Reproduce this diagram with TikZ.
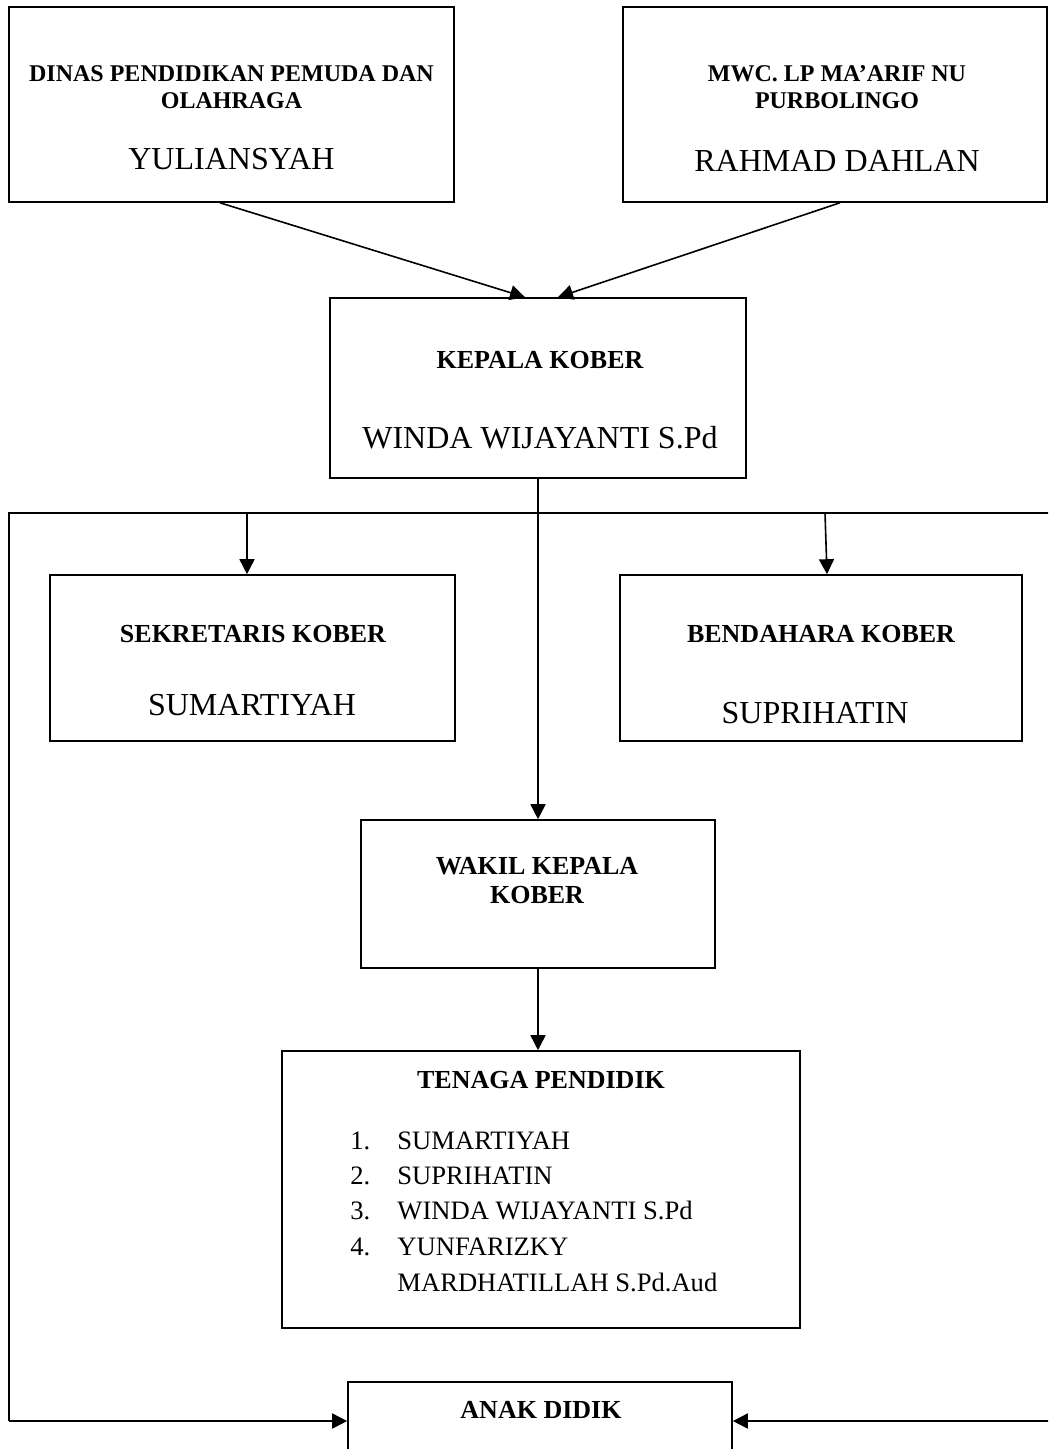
\documentclass[tikz,border=0pt]{standalone}
\usepackage{fontspec}
\setmainfont{Liberation Serif}
\usetikzlibrary{arrows.meta}

\tikzset{
  box/.style={draw, line width=0.8pt, inner sep=0pt},
  arr/.style={-{Triangle[length=7.5pt,width=7.5pt]}, line width=0.8pt},
  ln/.style={line width=0.8pt},
  hd/.style={font=\bfseries\fontsize{12}{14}\selectfont, anchor=base, inner sep=0pt},
  hdb/.style={font=\bfseries\fontsize{13}{15}\selectfont, anchor=base, inner sep=0pt},
  nm/.style={font=\fontsize{16}{19}\selectfont, anchor=base, inner sep=0pt},
  itm/.style={font=\fontsize{13.3}{16}\selectfont, anchor=base west, inner sep=0pt}
}

\begin{document}
\begin{tikzpicture}[x=0.5pt,y=-0.5pt]
            \clip (0,0) rectangle (1048,1449);
            % boxes
            \node[box, minimum width=222.5pt, minimum height=97.5pt] (dinas) at (231.5,104.5) {};
            \node[box, minimum width=212pt, minimum height=97.5pt] (mwc) at (835,104.5) {};
            \node[box, minimum width=208pt, minimum height=90pt] (kepala) at (538,388) {};
            \node[box, minimum width=202.5pt, minimum height=83pt] (sekretaris) at (252.5,658) {};
            \node[box, minimum width=201pt, minimum height=83pt] (bendahara) at (821,658) {};
            \node[box, minimum width=177pt, minimum height=74pt] (wakil) at (538,894) {};
            \node[box, minimum width=259pt, minimum height=138.5pt] (tenaga) at (541,1189.5) {};
            \node[box, minimum width=192pt, minimum height=69pt] (anak) at (540,1451) {};
            % texts
            \node[hd] (dinasT1) at (231.5,82) {DINAS PENDIDIKAN PEMUDA DAN};
            \node[hd] (dinasT2) at (231.5,109) {OLAHRAGA};
            \node[nm] (dinasN) at (231.5,170) {YULIANSYAH};
            \node[hd] (mwcT1) at (837,82) {MWC. LP MA’ARIF NU};
            \node[hd] (mwcT2) at (837,109) {PURBOLINGO};
            \node[nm] (mwcN) at (837,172) {RAHMAD DAHLAN};
            \node[hdb] (kepalaT) at (540,368) {KEPALA KOBER};
            \node[nm] (kepalaN) at (540,448) {WINDA WIJAYANTI S.Pd};
            \node[hdb] (sekT) at (253,642) {SEKRETARIS KOBER};
            \node[nm] (sekN) at (252,715) {SUMARTIYAH};
            \node[hdb] (benT) at (821,642) {BENDAHARA KOBER};
            \node[nm] (benN) at (815,723) {SUPRIHATIN};
            \node[hdb] (wakT1) at (537,874) {WAKIL KEPALA};
            \node[hdb] (wakT2) at (537,903) {KOBER};
            \node[hdb] (tenT) at (541,1088) {TENAGA PENDIDIK};
            \foreach \n/\y/\t in {1./1149/SUMARTIYAH, 2./1184/SUPRIHATIN,
                                  3./1219/WINDA WIJAYANTI S.Pd, 4./1255/YUNFARIZKY}
                {
                    \node[itm] (num\y) at (350,\y) {\n};
                    \node[itm] (itm\y) at (397,\y) {\t};
                }
            \node[itm] (itm1291) at (397,1291) {MARDHATILLAH S.Pd.Aud};
            \node[hdb] (anakT) at (541,1418) {ANAK DIDIK};
            % frame
            \coordinate (frameL) at (9,513);
            \coordinate (frameR) at (1052,513);
            \coordinate (frameBL) at (9,1421);
            \coordinate (frameBR) at (1052,1421);
            % arrows
            \draw[arr] (220,0 |- dinas.south) -- (525,0 |- kepala.north);
            \draw[arr] (840,0 |- mwc.south) -- (558,0 |- kepala.north);
            \draw[arr] (kepala.south) -- (kepala.south |- wakil.north);
            \draw[arr] (wakil.south) -- (wakil.south |- tenaga.north);
            \draw[ln] (frameR) -- (frameL) -- (frameBL);
            \draw[arr] (frameBL) -- (frameBL -| anak.west);
            \draw[arr] (frameBR) -- (frameBR -| anak.east);
            \draw[arr] (247,0 |- frameL) -- (247,0 |- sekretaris.north);
            \draw[arr] (825,0 |- frameL) -- (827,0 |- bendahara.north);
        \end{tikzpicture}
\end{document}
